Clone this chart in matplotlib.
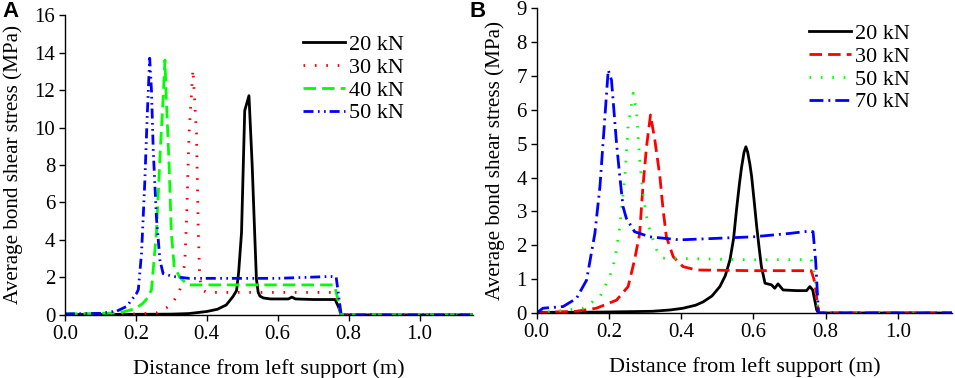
import matplotlib
matplotlib.use("Agg")
import matplotlib.pyplot as plt

plt.rcParams['font.family'] = ['Liberation Serif', 'DejaVu Serif']

# Panel A: bond stress along the bar, loads 20/30/40/50 kN
a_labels = ["20 kN", "30 kN", "40 kN", "50 kN"]

a20_x = [0.0, 0.1, 0.2, 0.3, 0.35, 0.4, 0.43, 0.455, 0.474, 0.484, 0.49, 0.498, 0.507, 0.519,
         0.528, 0.535, 0.54, 0.545, 0.55, 0.56, 0.58, 0.63, 0.64, 0.65, 0.70, 0.762, 0.772, 0.779, 1.15]
a20_y = [0.02, 0.02, 0.03, 0.04, 0.07, 0.18, 0.3, 0.53, 0.98, 1.3, 2.3, 4.4, 10.9, 11.7,
         8.0, 4.4, 1.9, 1.2, 1.0, 0.9, 0.85, 0.85, 0.95, 0.85, 0.82, 0.82, 0.4, 0.0, 0.0]

a30_x = [0.0, 0.1, 0.2, 0.258, 0.286, 0.305, 0.32, 0.33, 0.338, 0.343, 0.35, 0.361, 0.371, 0.376,
         0.38, 0.385, 0.39, 0.40, 0.76, 0.77, 0.779, 1.15]
a30_y = [0.02, 0.03, 0.05, 0.1, 0.37, 0.71, 1.1, 1.7, 2.8, 5.1, 9.7, 13.1, 9.7, 4.5,
         2.0, 1.5, 1.3, 1.2, 1.2, 0.6, 0.0, 0.0]

a40_x = [0.0, 0.1, 0.15, 0.169, 0.2, 0.22, 0.235, 0.244, 0.258, 0.269, 0.277, 0.282, 0.286, 0.294,
         0.30, 0.308, 0.324, 0.347, 0.40, 0.76, 0.77, 0.779, 1.15]
a40_y = [0.05, 0.08, 0.1, 0.18, 0.35, 0.62, 0.95, 1.35, 4.4, 8.8, 11.6, 13.6, 11.5, 7.9,
         4.4, 2.6, 2.0, 1.6, 1.6, 1.6, 0.8, 0.0, 0.0]

a50_x = [0.0, 0.1, 0.146, 0.174, 0.19, 0.202, 0.207, 0.216, 0.225, 0.232, 0.239, 0.244, 0.249, 0.258,
         0.268, 0.277, 0.305, 0.35, 0.6, 0.75, 0.765, 0.772, 0.779, 1.15]
a50_y = [0.05, 0.08, 0.2, 0.45, 0.85, 1.15, 1.35, 3.3, 7.0, 10.6, 13.7, 12.0, 8.8, 5.2,
         2.9, 2.2, 2.05, 1.95, 1.95, 2.05, 2.0, 1.0, 0.0, 0.0]

# Panel B: loads 20/30/50/70 kN
b_labels = ["20 kN", "30 kN", "50 kN", "70 kN"]

b20_x = [0.0, 0.1, 0.2, 0.32, 0.37, 0.405, 0.44, 0.461, 0.485, 0.507, 0.522, 0.535, 0.545, 0.553,
         0.561, 0.567, 0.574, 0.579, 0.584, 0.59, 0.595, 0.602, 0.609, 0.616, 0.622, 0.632, 0.65,
         0.659, 0.668, 0.682, 0.72, 0.747, 0.756, 0.764, 0.775, 0.78, 1.15]
b20_y = [0.02, 0.02, 0.03, 0.05, 0.09, 0.14, 0.23, 0.33, 0.5, 0.78, 1.1, 1.57, 2.2, 3.04,
         3.8, 4.3, 4.75, 4.91, 4.75, 4.4, 4.03, 3.3, 2.55, 1.9, 1.37, 0.88, 0.83,
         0.73, 0.86, 0.68, 0.66, 0.66, 0.78, 0.68, 0.09, 0.0, 0.0]

b30_x = [0.0, 0.05, 0.11, 0.165, 0.221, 0.253, 0.271, 0.285, 0.294, 0.304, 0.315, 0.327, 0.341,
         0.35, 0.359, 0.378, 0.405, 0.442, 0.6, 0.76, 0.77, 0.78, 1.15]
b30_y = [0.0, 0.03, 0.05, 0.14, 0.38, 0.78, 1.57, 2.35, 3.73, 4.91, 5.85, 5.11, 4.03,
         3.04, 2.25, 1.66, 1.37, 1.27, 1.25, 1.25, 0.9, 0.0, 0.0]

b50_x = [0.0, 0.05, 0.128, 0.175, 0.202, 0.216, 0.23, 0.244, 0.253, 0.267, 0.276, 0.285, 0.294,
         0.304, 0.313, 0.332, 0.35, 0.6, 0.76, 0.77, 0.78, 1.15]
b50_y = [0.0, 0.05, 0.14, 0.48, 1.07, 1.57, 2.55, 4.03, 5.5, 6.49, 6.0, 4.52, 3.54,
         2.85, 2.45, 1.86, 1.62, 1.57, 1.58, 1.1, 0.0, 0.0]

b70_x = [0.0, 0.017, 0.073, 0.11, 0.138, 0.161, 0.175, 0.198, 0.207, 0.221, 0.23, 0.239, 0.248,
         0.271, 0.313, 0.396, 0.6, 0.7, 0.756, 0.765, 0.772, 0.78, 1.15]
b70_y = [0.0, 0.14, 0.19, 0.43, 0.97, 2.35, 3.73, 7.18, 6.88, 5.01, 4.03, 3.14, 2.8,
         2.4, 2.25, 2.16, 2.25, 2.35, 2.42, 2.4, 1.57, 0.0, 0.0]

DOTS = (0, (0.6, 3.5))
DASHES = (0, (4.5, 2.2))
DASH_DOT_DOT = (0, (3.6, 1.6, 0.6, 1.6, 0.6, 1.4))
DASH_DOT = (0, (5, 1.8, 0.7, 1.8))

fig = plt.figure(figsize=(9.55, 3.78), dpi=100)
ax_a = fig.add_axes((0.068, 0.167, 0.427, 0.793))
ax_b = fig.add_axes((0.562, 0.172, 0.435, 0.806))

lw = 2.0
ax_a.plot(a20_x, a20_y, color="black", lw=lw, linestyle="-", label=a_labels[0])
ax_a.plot(a30_x, a30_y, color="#ff0000", lw=lw, linestyle=DOTS, label=a_labels[1])
ax_a.plot(a40_x, a40_y, color="#00ff00", lw=lw, linestyle=DASHES, label=a_labels[2])
ax_a.plot(a50_x, a50_y, color="#0000ff", lw=lw, linestyle=DASH_DOT_DOT, label=a_labels[3])

ax_b.plot(b20_x, b20_y, color="black", lw=lw, linestyle="-", label=b_labels[0])
ax_b.plot(b30_x, b30_y, color="#ff0000", lw=lw, linestyle=DASHES, label=b_labels[1])
ax_b.plot(b50_x, b50_y, color="#00ff00", lw=lw, linestyle=DOTS, label=b_labels[2])
ax_b.plot(b70_x, b70_y, color="#0000ff", lw=lw, linestyle=DASH_DOT, label=b_labels[3])

for ax, ymax, ystep in [(ax_a, 16, 2), (ax_b, 9, 1)]:
    ax.set_xlim(0, 1.15)
    ax.set_ylim(0, ymax)
    ax.set_xticks([0.0, 0.2, 0.4, 0.6, 0.8, 1.0])
    ax.set_xticklabels(["0.0", "0.2", "0.4", "0.6", "0.8", "1.0"])
    ax.set_yticks(range(0, ymax + 1, ystep))
    ax.spines["top"].set_visible(False)
    ax.spines["right"].set_visible(False)
    for s in ("left", "bottom"):
        ax.spines[s].set_linewidth(1.0)
    ax.tick_params(direction="out", length=4, width=1.0, labelsize=15, pad=3)
    ax.set_xlabel("Distance from left support (m)", fontsize=16, labelpad=11)
    ax.set_ylabel("Average bond shear stress (MPa)", fontsize=15.2, labelpad=8)

ax_a.legend(loc="upper left", bbox_to_anchor=(0.583, 0.935), frameon=False, fontsize=16,
            handlelength=1.9, handletextpad=0.2, labelspacing=0.1, borderaxespad=0, borderpad=0)
ax_b.legend(loc="upper left", bbox_to_anchor=(0.655, 0.95), frameon=False, fontsize=16,
            handlelength=1.9, handletextpad=0.2, labelspacing=0.1, borderaxespad=0, borderpad=0)

fig.text(0.003, 0.997, "A", fontsize=16, fontweight="bold", family="Liberation Sans", va="top", ha="left")
fig.text(0.492, 0.997, "B", fontsize=16, fontweight="bold", family="Liberation Sans", va="top", ha="left")

fig.savefig("out.png", dpi=100)
